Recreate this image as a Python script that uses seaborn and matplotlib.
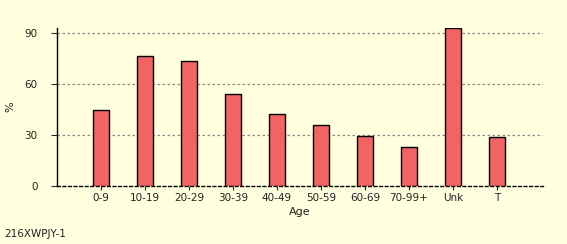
import matplotlib
matplotlib.use("Agg")
import matplotlib.pyplot as plt
import seaborn as sns
import pandas as pd

categories = ["0-9", "10-19", "20-29", "30-39", "40-49", "50-59", "60-69", "70-99+", "Unk", "T"]
values = [44.7, 76.5, 73.5, 54.1, 42.4, 35.9, 29.4, 22.9, 92.9, 28.8]
yticks = [0, 30, 60, 90]

sns.set_style("white")
plt.rcParams['font.family'] = ['DejaVu Sans']

bg = "#FFFFE0"
fig = plt.figure(figsize=(5.67, 2.44), dpi=100, facecolor=bg)
ax = fig.add_axes([0.1005, 0.2377, 0.8572, 0.6475])
ax.set_facecolor(bg)

df = pd.DataFrame({"Age": categories, "pct": values})
sns.barplot(data=df, x="Age", y="pct", ax=ax, color="#F06464", width=0.36,
            edgecolor="black", linewidth=1, saturation=1, zorder=3)

ax.set_xlim(-1, 10.05)
ax.set_ylim(0, 93)
ax.set_yticks(yticks)
ax.set_yticklabels([str(t) for t in yticks], fontsize=7.5, color="#222222")
ax.tick_params(axis="x", labelsize=7.5, colors="#222222", length=3, width=0.8, direction="out", pad=2)
ax.tick_params(axis="y", length=4, width=0.8, direction="out", pad=10)
ax.tick_params(axis="both", bottom=True, left=True)

for t in yticks[1:]:
    ax.axhline(t, color="#888888", linestyle=(0, (2, 2)), linewidth=0.9, zorder=1)

for s in ["top", "right"]:
    ax.spines[s].set_visible(False)
ax.spines["left"].set_color("black")
ax.spines["left"].set_linewidth(1)
ax.spines["bottom"].set_color("black")
ax.spines["bottom"].set_linewidth(1)
ax.spines["bottom"].set_linestyle((0, (2, 2)))

ax.set_xlabel("Age", fontsize=8, color="#222222", labelpad=3)
ax.set_ylabel("%", fontsize=8, color="#222222")
ax.yaxis.set_label_coords(-0.086, 0.5)

fig.text(0.008, 0.04, "216XWPJY-1", fontsize=7.5, color="#222222", ha="left", va="center")

fig.savefig("out.png", dpi=100, facecolor=bg)
